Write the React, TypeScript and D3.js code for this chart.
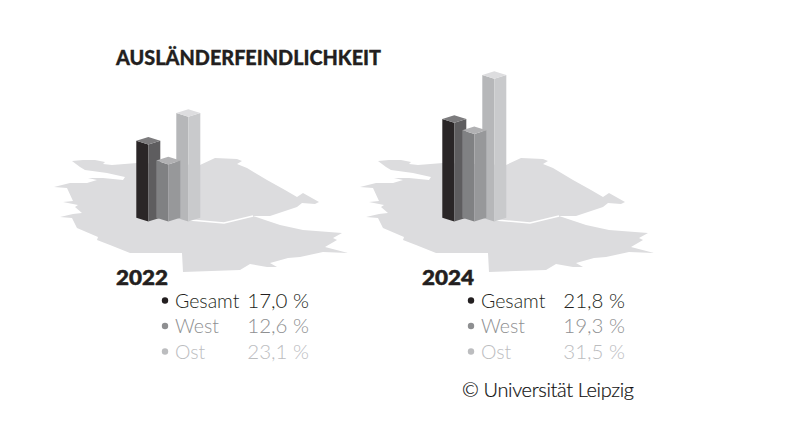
import React from 'react';
import * as d3 from 'd3';

const categories = ['Gesamt', 'West', 'Ost'];
const values2022 = [17.0, 12.6, 23.1];
const values2024 = [21.8, 19.3, 31.5];
const valueLabels2022 = ['17,0 %', '12,6 %', '23,1 %'];
const valueLabels2024 = ['21,8 %', '19,3 %', '31,5 %'];

// outline of the country behind the bars
const mapOutline: [number, number][] = [
  [72, 161], [83, 160], [95, 160], [105, 162], [103, 164], [112, 165], [137, 163], [200, 165], [215, 158],
  [237, 159], [242, 161], [237, 164], [247, 168], [267, 180], [285, 190], [297, 197], [303, 193], [319, 202],
  [315, 204], [302, 203], [297, 207], [270, 216], [253, 216], [268, 221], [280, 225], [303, 230], [342, 233],
  [333, 238], [337, 240], [325, 247], [348, 253], [323, 252], [300, 257], [288, 258], [270, 263], [277, 267],
  [267, 267], [250, 264], [240, 270], [183, 272], [182, 253], [130, 253], [110, 245], [97, 240], [98, 237],
  [77, 228], [72, 218], [60, 217], [73, 214], [82, 213], [75, 207], [78, 205], [63, 202], [73, 201],
  [67, 188], [54, 187], [70, 183], [87, 183], [97, 180], [88, 178], [103, 178], [123, 180],
  [125, 177], [107, 173], [85, 170], [80, 167],
];
const borderLine: [number, number][] = [[190, 220], [224, 223], [253, 216]];

const BarShape: React.FC<{ cx: number; base: number; top: number; shades: string[] }> = ({ cx, base, top, shades }) => {
  const w = 12;
  const d = 3.8;
  const face = d3.line();
  return (
    <g>
      <path d={face([[cx - w, base - d], [cx, base], [cx, top], [cx - w, top - d]]) + 'Z'} fill={shades[0]} />
      <path d={face([[cx, base], [cx + w, base - d], [cx + w, top - d], [cx, top]]) + 'Z'} fill={shades[1]} />
      <path d={face([[cx, top], [cx + w, top - d], [cx, top - 2 * d], [cx - w, top - d]]) + 'Z'} fill={shades[2]} />
    </g>
  );
};

const barShades: Record<string, string[]> = {
  Gesamt: ['#2a2627', '#5e5d5f', '#7c7b7d'],
  West: ['#808183', '#97989a', '#b1b1b3'],
  Ost: ['#b6b7b9', '#c9cacc', '#dddddf'],
};
const textColor: Record<string, string> = { Gesamt: '#231f20', West: '#8e8f91', Ost: '#bcbdbf' };

const heightScale = d3.scaleLinear().domain([0, 10]).range([0, 45.3]);
const barX = d3.scalePoint<string>().domain(categories).range([148.3, 188.3]);

const labelFont = "'Lato', 'Noto Sans', sans-serif";
const headFont = "'Lato', 'Liberation Sans', sans-serif";

interface PanelProps {
  year: string;
  values: number[];
  labels: string[];
  dx: number;
  valueDx: number;
}

const Panel: React.FC<PanelProps> = ({ year, values, labels, dx, valueDx }) => {
  const mapPath = d3.line()(mapOutline) + 'Z';
  const base = 221.5;
  // West sits in front of the other two
  const order = [2, 0, 1];
  const rowY = d3.scalePoint<string>().domain(categories).range([307.5, 358.5]);
  return (
    <g transform={`translate(${dx},0)`}>
      <path d={mapPath} fill="#dcdcde" />
      <path d={d3.line()(borderLine) ?? ''} fill="none" stroke="#ffffff" strokeWidth={1.6} />
      {order.map((i) => (
        <BarShape
          key={categories[i]}
          cx={barX(categories[i]) as number}
          base={base}
          top={base - heightScale(values[i])}
          shades={barShades[categories[i]]}
        />
      ))}
      <text x={116} y={285} fontFamily={headFont} fontWeight={900} fontSize={20} fill="#231f20" stroke="#231f20" strokeWidth={0.5} textLength={52} lengthAdjust="spacingAndGlyphs">{year}</text>
      {categories.map((c, i) => {
        const y = rowY(c) as number;
        return (
          <g key={c} fill={textColor[c]} fontFamily={labelFont} fontWeight={300}>
            <circle cx={165} cy={y - 7} r={3.2} />
            <text x={175} y={y} fontSize={19.5}>{c}</text>
            <text x={309 + valueDx} y={y} textAnchor="end" fontSize={20.5}>{labels[i]}</text>
          </g>
        );
      })}
    </g>
  );
};

const App: React.FC = () => (
  <svg width={785} height={428} style={{ position: 'absolute', left: 0, top: 0, background: '#fff' }}>
    <text x={116} y={65} fontFamily={headFont} fontWeight={900} fontSize={20} fill="#231f20" stroke="#231f20" strokeWidth={0.3} textLength={265} lengthAdjust="spacingAndGlyphs">
      AUSLÄNDERFEINDLICHKEIT
    </text>
    <Panel year="2022" values={values2022} labels={valueLabels2022} dx={0} valueDx={0} />
    <Panel year="2024" values={values2024} labels={valueLabels2024} dx={306} valueDx={10} />
    <text x={462} y={397} fontFamily={labelFont} fontWeight={300} fontSize={20} fill="#111111" stroke="#111111" strokeWidth={0.2} textLength={172}>
      © Universität Leipzig
    </text>
  </svg>
);

export default App;
